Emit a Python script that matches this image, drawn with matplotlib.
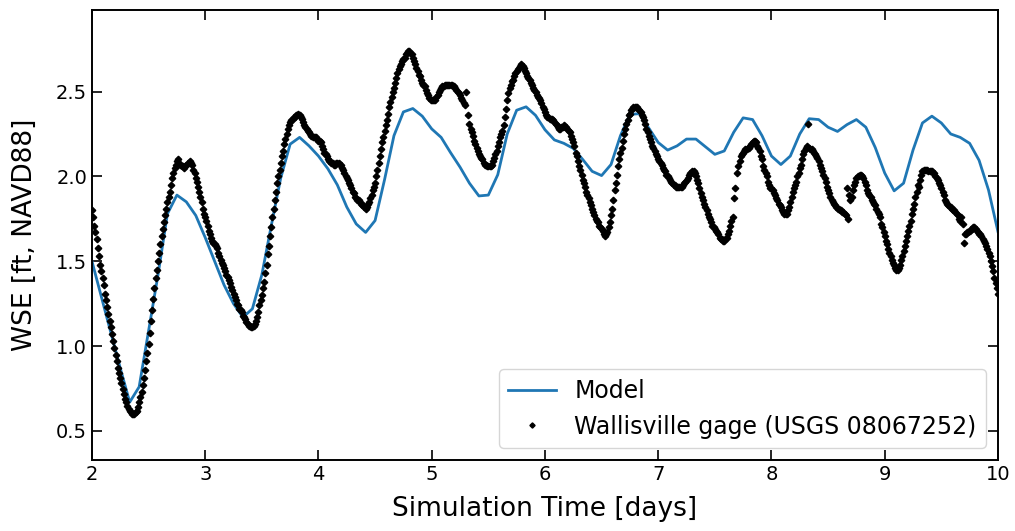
import numpy as np
import matplotlib
matplotlib.use('Agg')
import matplotlib.pyplot as plt

# model output, every 2 hours from day 2 to day 10
model_wse = [1.50, 1.29, 1.08, 0.87, 0.67, 0.76, 1.09, 1.42, 1.78, 1.89, 1.85, 1.77,
             1.64, 1.50, 1.36, 1.25, 1.17, 1.22, 1.42, 1.71, 1.99, 2.19, 2.23, 2.18,
             2.12, 2.045, 1.95, 1.82, 1.72, 1.67, 1.74, 1.98, 2.24, 2.38, 2.40, 2.355,
             2.28, 2.23, 2.14, 2.055, 1.96, 1.885, 1.89, 2.01, 2.25, 2.39, 2.41, 2.36,
             2.275, 2.215, 2.195, 2.165, 2.10, 2.03, 2.005, 2.07, 2.24, 2.365, 2.37, 2.285,
             2.20, 2.155, 2.18, 2.22, 2.22, 2.175, 2.13, 2.15, 2.26, 2.345, 2.335, 2.24,
             2.12, 2.07, 2.12, 2.25, 2.34, 2.335, 2.29, 2.265, 2.305, 2.335, 2.29, 2.17,
             2.02, 1.915, 1.96, 2.155, 2.315, 2.355, 2.315, 2.25, 2.23, 2.195, 2.095, 1.92,
             1.675]
model_time = 2 + np.arange(len(model_wse)) / 12.0

# gage readings, 15 min interval, one list per day
nan = np.nan
gage_day2 = [1.80, 1.76, 1.71, 1.67, 1.63, 1.58, 1.53, 1.48, 1.44, 1.40, 1.36, 1.31,
             1.27, 1.23, 1.19, 1.15, 1.11, 1.07, 1.03, 0.99, 0.95, 0.91, 0.87, 0.84,
             0.81, 0.78, 0.75, 0.72, 0.69, 0.67, 0.65, 0.63, 0.62, 0.61, 0.60, 0.60,
             0.60, 0.61, 0.62, 0.64, 0.67, 0.70, 0.73, 0.77, 0.81, 0.86, 0.91, 0.96,
             1.01, 1.08, 1.15, 1.21, 1.28, 1.34, 1.40, 1.45, 1.50, 1.55, 1.60, 1.65,
             1.69, 1.73, 1.77, 1.81, 1.85, 1.88, 1.91, 1.95, 1.99, 2.02, 2.05, 2.07,
             2.09, 2.10, 2.08, 2.07, 2.06, 2.06, 2.05, 2.06, 2.07, 2.08, 2.08, 2.09,
             2.08, 2.07, 2.04, 2.02, 1.99, 1.97, 1.94, 1.91, 1.88, 1.85, 1.81, 1.78]
gage_day3 = [1.76, 1.74, 1.71, 1.68, 1.66, 1.64, 1.62, 1.61, 1.60, 1.59, 1.58, 1.55,
             1.53, 1.51, 1.49, 1.48, 1.46, 1.44, 1.42, 1.41, 1.39, 1.37, 1.35, 1.33,
             1.31, 1.29, 1.27, 1.25, 1.24, 1.22, 1.21, 1.20, 1.18, 1.17, 1.16, 1.14,
             1.13, 1.12, 1.12, 1.11, 1.11, 1.12, 1.13, 1.15, 1.17, 1.20, 1.24, 1.27,
             1.30, 1.34, 1.38, 1.43, 1.48, 1.54, 1.59, 1.65, 1.70, 1.76, 1.81, 1.86,
             1.91, 1.96, 2.00, 2.04, 2.08, 2.12, 2.15, 2.19, 2.22, 2.25, 2.28, 2.30,
             2.32, 2.33, 2.34, 2.35, 2.35, 2.36, 2.36, 2.37, 2.36, 2.35, 2.34, 2.32,
             2.30, 2.29, 2.28, 2.27, 2.26, 2.25, 2.24, 2.23, 2.23, 2.23, 2.23, 2.22]
gage_day4 = [2.21, 2.21, 2.20, 2.18, 2.16, 2.14, 2.13, 2.12, 2.10, 2.09, 2.09, 2.08,
             2.08, 2.07, 2.07, 2.08, 2.08, 2.08, 2.07, 2.07, 2.05, 2.04, 2.02, 2.00,
             1.99, 1.98, 1.96, 1.95, 1.93, 1.91, 1.90, 1.88, 1.87, 1.86, 1.86, 1.85,
             1.84, 1.83, 1.83, 1.82, 1.81, 1.82, 1.84, 1.85, 1.87, 1.89, 1.92, 1.94,
             1.96, 2.00, 2.04, 2.08, 2.12, 2.16, 2.20, 2.23, 2.27, 2.30, 2.33, 2.37,
             2.41, 2.44, 2.47, 2.50, 2.52, 2.55, 2.58, 2.61, 2.63, 2.65, 2.66, 2.68,
             2.69, 2.70, 2.72, 2.73, 2.74, 2.74, 2.73, 2.72, 2.70, 2.68, 2.66, 2.64,
             2.62, 2.60, 2.59, 2.57, 2.55, 2.54, 2.53, 2.51, 2.49, 2.48, 2.46, 2.45]
gage_day5 = [2.45, 2.45, 2.45, 2.45, 2.47, 2.48, 2.50, 2.51, 2.52, 2.53, 2.53, 2.54,
             2.54, 2.54, 2.54, 2.54, 2.54, 2.54, 2.53, 2.53, 2.52, 2.51, 2.50, 2.49,
             2.48, 2.46, 2.45, 2.43, 2.42, 2.50, nan, 2.36, 2.31, 2.28, 2.26, 2.24,
             2.21, 2.19, 2.17, 2.15, 2.13, 2.12, 2.11, 2.10, 2.08, 2.07, 2.07, 2.06,
             2.06, 2.06, 2.06, 2.07, 2.09, 2.11, 2.13, 2.15, 2.18, 2.20, 2.23, 2.25,
             2.27, 2.30, 2.35, 2.40, 2.45, 2.49, 2.52, 2.54, 2.56, 2.57, 2.59, 2.61,
             2.62, 2.63, 2.64, 2.65, 2.66, 2.65, 2.64, 2.62, 2.61, 2.59, 2.58, 2.57,
             2.55, 2.54, 2.52, 2.51, 2.50, 2.48, 2.47, 2.46, 2.45, 2.43, 2.41, 2.40]
gage_day6 = [2.38, 2.36, 2.35, 2.35, 2.34, 2.34, 2.34, 2.33, 2.32, 2.31, 2.30, 2.29,
             2.28, 2.28, 2.29, 2.29, 2.30, 2.29, 2.29, 2.28, 2.27, 2.26, 2.24, 2.22,
             2.20, 2.18, 2.14, 2.12, 2.09, 2.06, 2.04, 2.01, 1.98, 1.96, 1.94, 1.91,
             1.89, 1.87, 1.85, 1.83, 1.81, 1.79, 1.77, 1.75, 1.74, 1.73, 1.71, 1.70,
             1.69, 1.68, 1.66, 1.65, 1.66, 1.67, 1.70, 1.73, 1.77, 1.81, 1.86, 1.92,
             1.96, 2.01, 2.06, 2.10, 2.14, 2.17, 2.21, 2.25, 2.28, 2.31, 2.33, 2.36,
             2.37, 2.39, 2.40, 2.41, 2.41, 2.41, 2.41, 2.40, 2.39, 2.38, 2.36, 2.35,
             2.33, 2.31, 2.28, 2.26, 2.24, 2.22, 2.20, 2.18, 2.17, 2.15, 2.13, 2.12]
gage_day7 = [2.10, 2.09, 2.08, 2.07, 2.05, 2.04, 2.03, 2.01, 2.00, 1.99, 1.98, 1.97,
             1.96, 1.95, 1.95, 1.94, 1.94, 1.94, 1.94, 1.94, 1.94, 1.95, 1.96, 1.97,
             1.98, 1.99, 2.01, 2.02, 2.02, 2.03, 2.03, 2.02, 2.00, 1.98, 1.96, 1.93,
             1.90, 1.88, 1.86, 1.84, 1.82, 1.80, 1.78, 1.76, 1.75, 1.73, 1.71, 1.70,
             1.69, 1.68, 1.67, 1.66, 1.64, 1.63, 1.63, 1.62, 1.62, 1.63, 1.64, 1.66,
             1.68, 1.71, 1.74, 1.76, 1.87, 1.93, nan, 2.02, 2.06, 2.09, 2.12, 2.13,
             2.14, 2.15, 2.16, 2.16, 2.17, 2.17, 2.18, 2.19, 2.20, 2.21, 2.21, 2.20,
             2.18, 2.17, 2.15, 2.12, 2.10, 2.06, 2.04, 2.02, 2.00, 1.97, 1.95, 1.93]
gage_day8 = [1.93, 1.92, 1.90, 1.89, 1.87, 1.86, 1.84, 1.83, 1.82, 1.80, 1.79, 1.78,
             1.78, 1.78, 1.80, 1.82, 1.85, 1.88, 1.91, 1.93, 1.95, 1.97, 2.00, 2.02,
             2.05, 2.07, 2.10, 2.13, 2.15, 2.17, 2.18, 2.31, 2.17, 2.16, 2.16, 2.15,
             2.14, 2.13, 2.12, 2.11, 2.09, 2.07, 2.05, 2.03, 2.01, 1.99, 1.97, 1.94,
             1.92, 1.90, 1.88, 1.86, 1.85, 1.84, 1.83, 1.82, 1.81, 1.81, 1.80, 1.80,
             1.79, 1.79, 1.78, 1.77, 1.93, 1.75, 1.89, 1.86, 1.88, 1.92, 1.95, 1.97,
             1.99, 2.00, 2.00, 2.01, 2.01, 2.00, 1.99, 1.97, 1.95, 1.92, 1.90, 1.89,
             1.88, 1.86, 1.85, 1.84, 1.83, 1.81, 1.79, 1.78, 1.76, 1.72, 1.70, 1.67]
gage_day9 = [1.65, 1.62, 1.60, 1.57, 1.55, 1.53, 1.51, 1.49, 1.48, 1.46, 1.45, 1.45,
             1.46, 1.48, 1.51, 1.53, 1.56, 1.59, 1.62, 1.65, 1.68, 1.71, 1.74, 1.78,
             1.81, 1.84, 1.88, 1.91, 1.95, 1.94, 1.98, 2.01, 2.03, 2.04, 2.04, 2.04,
             2.04, 2.03, 2.03, 2.03, 2.03, 2.02, 2.02, 2.00, 1.99, 1.98, 1.96, 1.95,
             1.93, 1.91, 1.89, 1.86, 1.85, 1.84, 1.83, 1.82, 1.82, 1.81, 1.80, 1.80,
             1.79, 1.78, 1.77, 1.75, 1.74, 1.76, 1.72, 1.61, 1.66, 1.66, 1.67, 1.67,
             1.68, 1.69, 1.69, 1.70, 1.70, 1.69, 1.68, 1.67, 1.66, 1.66, 1.65, 1.63,
             1.62, 1.61, 1.59, 1.57, 1.55, 1.53, 1.50, 1.47, 1.44, 1.40, 1.37, 1.34,
             1.31]

gage_days = [gage_day2, gage_day3, gage_day4, gage_day5, gage_day6, gage_day7, gage_day8, gage_day9]
gage_time = np.concatenate([d + np.arange(len(v)) / 96.0 for d, v in zip(range(2, 10), gage_days)])
gage_wse = np.concatenate(gage_days)

fig = plt.figure(figsize=(10.15, 5.31), dpi=100)
ax = fig.add_axes([0.0906, 0.134, 0.8926, 0.847])

ax.plot(model_time, model_wse, color='#1f77b4', linewidth=2, label='Model')
ax.plot(gage_time, gage_wse, 'D', color='black', markersize=3.3, label='Wallisville gage (USGS 08067252)')

ax.set_xlim([2, 10])
ax.set_ylim([0.33, 2.98])
ax.set_yticks([0.5, 1.0, 1.5, 2.0, 2.5])
ax.set_xlabel('Simulation Time [days]', fontsize=19, labelpad=9)
ax.set_ylabel('WSE [ft, NAVD88]', fontsize=19, labelpad=13)
ax.tick_params(direction='in', top=True, right=True, length=7, width=1.2, labelsize=14)
for s in ax.spines.values():
    s.set_linewidth(1.4)
ax.legend(loc='lower right', fontsize=17, markerscale=0.8)

fig.savefig('out.png', dpi=100)
